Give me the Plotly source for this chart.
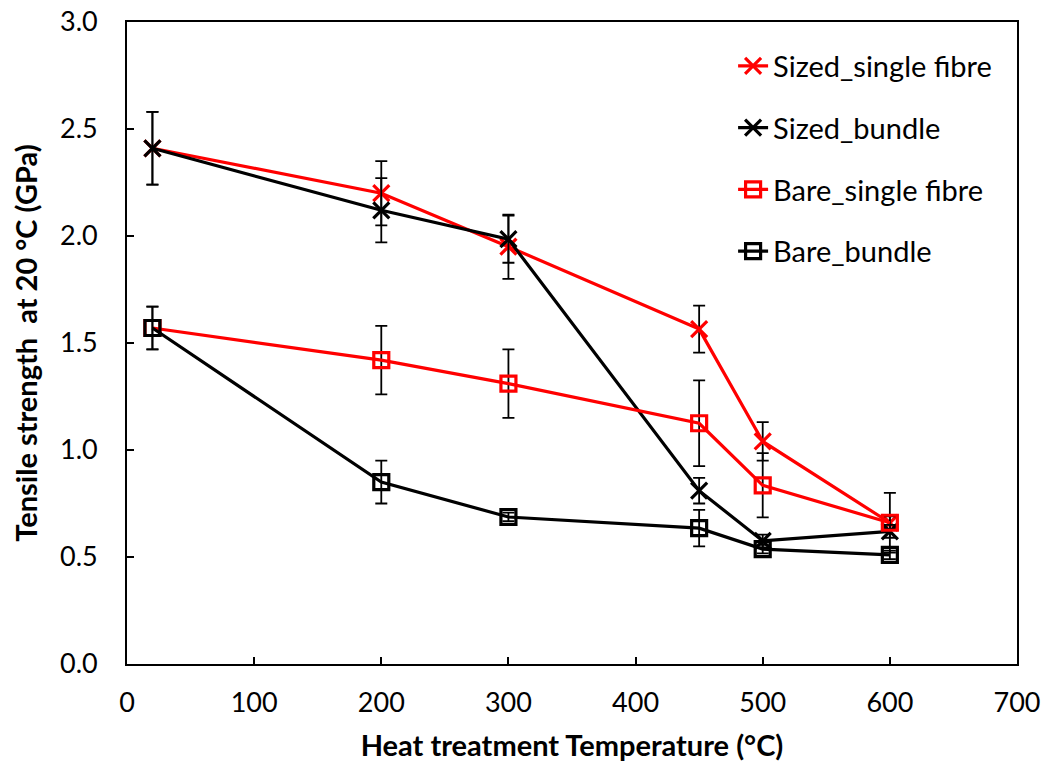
import plotly.graph_objects as go

temps = [20, 200, 300, 450, 500, 600]

sized_single = [2.41, 2.20, 1.95, 1.565, 1.04, 0.66]
sized_single_err = [0.17, 0.15, 0.15, 0.11, 0.09, 0.14]

sized_bundle = [2.41, 2.12, 1.985, 0.81, 0.575, 0.62]
sized_bundle_err = [0.17, 0.15, 0.11, 0.06, 0.03, 0.03]

bare_single = [1.57, 1.42, 1.31, 1.125, 0.835, 0.66]
bare_single_err = [0.10, 0.16, 0.16, 0.20, 0.15, 0.03]

bare_bundle = [1.57, 0.85, 0.687, 0.635, 0.537, 0.51]
bare_bundle_err = [0.10, 0.10, 0.02, 0.085, 0.02, 0.02]

names = ["Sized_single fibre", "Sized_bundle", "Bare_single fibre", "Bare_bundle"]
series = [sized_single, sized_bundle, bare_single, bare_bundle]
errors = [sized_single_err, sized_bundle_err, bare_single_err, bare_bundle_err]
colors = ["#FF0000", "#000000", "#FF0000", "#000000"]
symbols = ["x-thin-open", "x-thin-open", "square-open", "square-open"]
sizes = [16, 16, 15, 15]

fig = go.Figure()
for i, (n, ys, es, c, s, sz) in enumerate(zip(names, series, errors, colors, symbols, sizes)):
    fig.add_trace(go.Scatter(
        x=temps, y=ys, name=n, mode="lines+markers",
        legendgroup=str(i),
        line=dict(color=c, width=3.2),
        marker=dict(symbol=s, size=sz, color=c, line=dict(color=c, width=3.2)),
        error_y=dict(type="data", array=es, visible=True, color="#000000",
                     thickness=1.8, width=6),
    ))

font_family = "Lato, 'Open Sans', sans-serif"
fig.update_layout(
    width=1046, height=769,
    margin=dict(l=127, r=29, t=22, b=105, autoexpand=False),
    paper_bgcolor="white", plot_bgcolor="white",
    font=dict(family=font_family, color="black", size=27),
    legend=dict(x=0.681, y=0.971, xanchor="left", yanchor="top",
                font=dict(size=29, family=font_family), tracegroupgap=21,
                bgcolor="rgba(0,0,0,0)"),
    xaxis=dict(range=[0, 700], dtick=100, tick0=0, ticks="inside", ticklen=7,
               tickwidth=1.5, tickcolor="black", showline=True, linecolor="black",
               linewidth=1.8, mirror=True, showgrid=False, zeroline=False,
               automargin=False,
               tickfont=dict(size=27), ticklabelstandoff=14,
               title=dict(text="<b>Heat treatment Temperature (°C)</b>",
                          font=dict(size=29), standoff=18)),
    yaxis=dict(range=[0, 3.0], dtick=0.5, tick0=0, tickformat=".1f",
               ticks="inside", ticklen=7, tickwidth=1.5, tickcolor="black",
               showline=True, linecolor="black", linewidth=1.8, mirror=True,
               showgrid=False, zeroline=False, automargin=False,
               tickfont=dict(size=27), ticklabelstandoff=22,
               title=dict(text="<b>Tensile strength  at 20 °C (GPa)</b>",
                          font=dict(size=29), standoff=14)),
)

fig.write_html("out.html")
